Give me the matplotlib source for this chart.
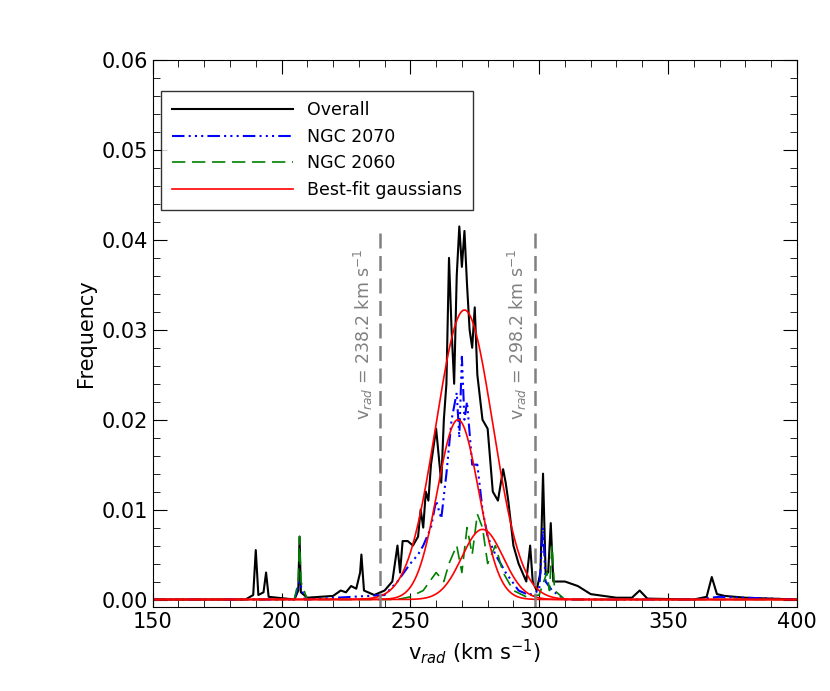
import numpy as np
import matplotlib.pyplot as plt

# Overall distribution
x_all = [150, 186, 189, 190, 191, 193, 194, 195, 205, 206.5, 207, 207.5, 210, 220, 223, 225, 227, 229, 230.5, 231, 232, 236,
         240, 243, 245, 246, 247, 249, 251, 253, 254, 255, 256, 257, 258, 260, 261, 262, 263, 264, 265, 266, 267,
         268, 269, 270, 271, 272, 273, 274, 275, 276, 278, 280, 282, 284, 286, 287, 288, 290, 292, 295, 296.5,
         297.5, 299, 300.5, 301.5, 302.5, 303.5, 304.5, 305.5, 310, 315, 320, 330, 336, 339, 342, 360, 365,
         367, 369, 372, 380, 400]
y_all = [0, 0, 0.0005, 0.0055, 0.0005, 0.0008, 0.003, 0.0003, 0, 0.001, 0.007, 0.0008, 0.0002, 0.0004, 0.001, 0.0008,
         0.0015, 0.0012, 0.003, 0.005, 0.001, 0.0005,
         0.001, 0.002, 0.006, 0.003, 0.0065, 0.0065, 0.006, 0.007, 0.01, 0.008, 0.012, 0.011, 0.015, 0.019, 0.016,
         0.013, 0.02, 0.024, 0.038, 0.03, 0.024, 0.036, 0.0415, 0.037, 0.041, 0.035, 0.03, 0.028, 0.0325, 0.025,
         0.02, 0.019, 0.012, 0.011, 0.0145, 0.013, 0.011, 0.006, 0.004, 0.002, 0.006, 0.002, 0.001, 0.003,
         0.014, 0.003, 0.003, 0.0085, 0.002, 0.002, 0.0015, 0.0006, 0.0002, 0.0002, 0.001, 0.0001, 0, 0.0003,
         0.0025, 0.0006, 0.0004, 0.0002, 0]

# NGC 2070
x_2070 = [150, 205, 207, 209, 240, 245, 250, 253, 255, 258, 260, 262, 264, 266, 268, 269, 270, 271, 272, 274,
          276, 278, 280, 283, 287, 292, 296, 300, 301.5, 302.5, 305, 310, 360, 370, 380, 400]
y_2070 = [0, 0, 0.002, 0, 0.0005, 0.002, 0.004, 0.005, 0.006, 0.008, 0.011, 0.009, 0.014, 0.02, 0.023, 0.018,
          0.027, 0.02, 0.022, 0.015, 0.015, 0.01, 0.007, 0.005, 0.003, 0.001, 0.0005, 0.001, 0.008, 0.002,
          0.001, 0, 0, 0.0003, 0.0002, 0]

# NGC 2060
x_2060 = [150, 205, 206.5, 207, 207.5, 210, 245, 250, 255, 260, 263, 265, 268, 270, 272, 274, 276, 278, 280,
          283, 286, 290, 295, 300, 303, 304, 305, 306, 310, 400]
y_2060 = [0, 0, 0.002, 0.007, 0.002, 0, 0, 0.0003, 0.001, 0.003, 0.002, 0.004, 0.006, 0.003, 0.008, 0.005,
          0.0095, 0.008, 0.004, 0.006, 0.003, 0.001, 0.0003, 0.0005, 0.003, 0.001, 0.006, 0.001, 0, 0]

# best-fit gaussians: centre, sigma, peak
g_mu = [271.0, 268.5, 278.0]
g_sig = [11.0, 8.0, 8.0]
g_amp = [0.0322, 0.0200, 0.0078]

v_cuts = [238.2, 298.2]

fig = plt.figure(figsize=(8.3, 6.91), dpi=100)
ax = fig.add_axes([0.184, 0.122, 0.776, 0.791])

ax.plot(x_all, y_all, color='black', lw=1.5, label='Overall')
ax.plot(x_2070, y_2070, color='blue', lw=1.5, linestyle=(0, (6, 2, 1, 2, 1, 2, 1, 2)), label='NGC 2070')
ax.plot(x_2060, y_2060, color='green', lw=1.2, linestyle=(0, (8, 4)), label='NGC 2060')
xx = np.linspace(150, 400, 1000)
for i, (m, s, a) in enumerate(zip(g_mu, g_sig, g_amp)):
    ax.plot(xx, a * np.exp(-0.5 * ((xx - m) / s) ** 2), color='red', lw=1.2,
            label='Best-fit gaussians' if i == 0 else None)

for v in v_cuts:
    ax.plot([v, v], [-0.001, 0.041], color='gray', lw=1.8, linestyle=(0, (6, 3)))
    ax.text(v - 2.0, 0.0295, r'v$_{rad}$ = %.1f km s$^{-1}$' % v, rotation=90, color='gray',
            fontsize=12.5, ha='right', va='center')

ax.set_xlim(150, 400)
ax.set_ylim(-0.0008, 0.06)
ax.set_xticks([150, 200, 250, 300, 350, 400])
ax.set_yticks(np.arange(0, 0.061, 0.01))
ax.yaxis.set_major_formatter(plt.FormatStrFormatter('%.2f'))
ax.minorticks_on()
ax.tick_params(which='both', direction='in', top=True, right=True, labelsize=15)
ax.tick_params(which='major', length=10)
ax.tick_params(which='minor', length=5)
ax.set_xlabel(r'v$_{rad}$ (km s$^{-1}$)', fontsize=15)
ax.set_ylabel('Frequency', fontsize=15)

leg = ax.legend(loc='upper left', bbox_to_anchor=(0.0, 0.96), fontsize=12.5, frameon=True, fancybox=False,
                edgecolor='black', handlelength=7, borderpad=0.6, labelspacing=0.5)
leg.get_frame().set_linewidth(1)

fig.savefig('out.png', dpi=100)
